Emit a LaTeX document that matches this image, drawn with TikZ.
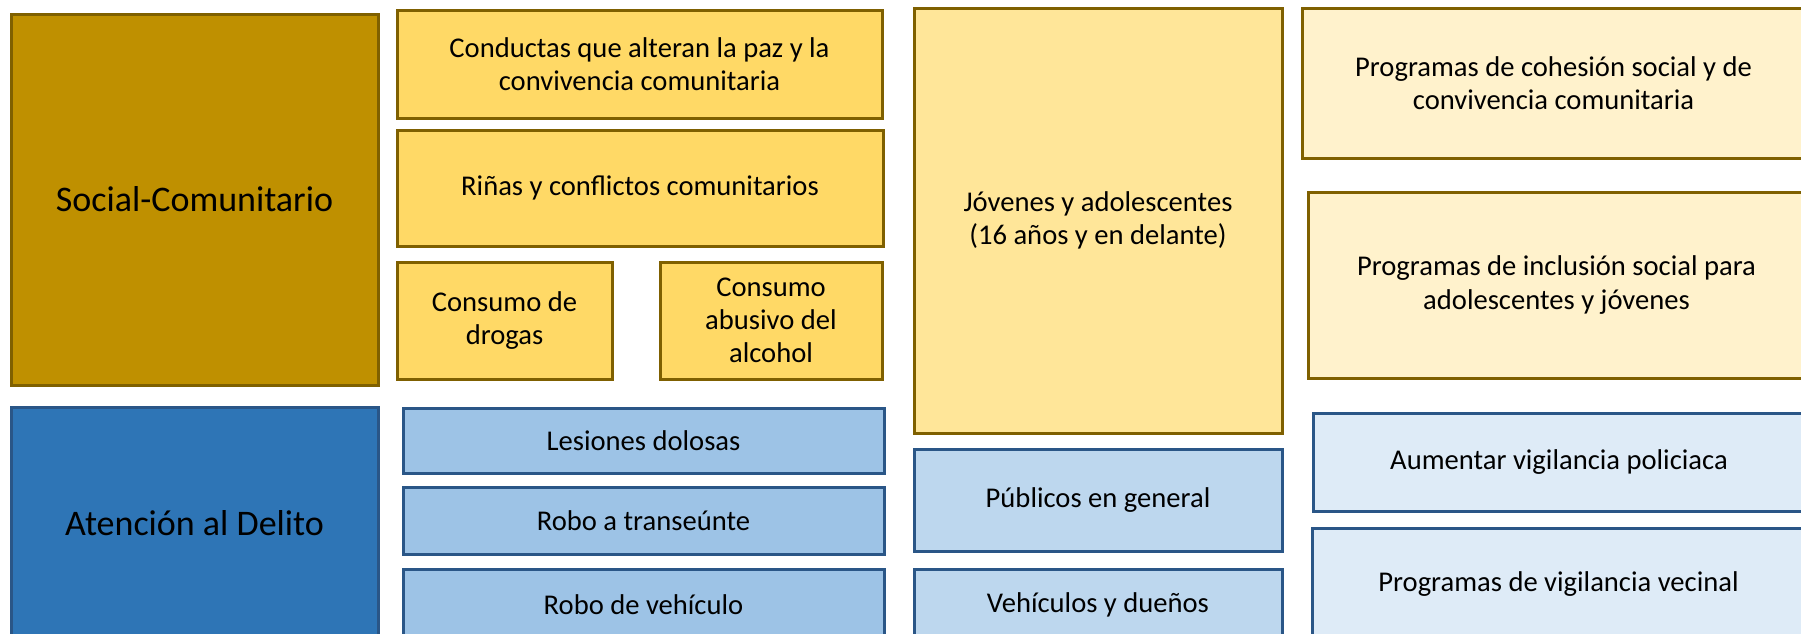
\documentclass[tikz,border=0pt]{standalone}
\usepackage{fontspec}
\setmainfont{Carlito}
\usepackage{tikz}
\definecolor{oro}{HTML}{BF9000}
\definecolor{orolinea}{HTML}{7F6000}
\definecolor{amarillo}{HTML}{FFD966}
\definecolor{amarillomed}{HTML}{FFE699}
\definecolor{amarilloclaro}{HTML}{FFF2CC}
\definecolor{azul}{HTML}{2E75B6}
\definecolor{azullinea}{HTML}{2A5687}
\definecolor{azulmed}{HTML}{9DC3E6}
\definecolor{azulclaro}{HTML}{BDD7EE}
\definecolor{azulpalido}{HTML}{DEEBF7}
% one tile: name, style, x1, y1, x2, y2, text (pixel units)
\newcommand{\tile}[7]{%
  \node[#2,minimum width={(#5-#3)*0.5pt},minimum height={(#6-#4)*0.5pt}]
    (#1) at ({(#3+#5)/2},{(#4+#6)/2}) {#7};}
\tikzset{
  cell/.style={draw,line width=1.5pt,align=center,inner sep=0pt,
    font=\fontsize{14.3}{16.6}\selectfont},
  big/.style={cell,font=\fontsize{18}{21}\selectfont},
  oroA/.style={big,fill=oro,draw=orolinea},
  oroB/.style={cell,fill=amarillo,draw=orolinea},
  oroC/.style={cell,fill=amarillomed,draw=orolinea},
  oroD/.style={cell,fill=amarilloclaro,draw=orolinea},
  azulA/.style={big,fill=azul,draw=azullinea},
  azulB/.style={cell,fill=azulmed,draw=azullinea},
  azulC/.style={cell,fill=azulclaro,draw=azullinea},
  azulD/.style={cell,fill=azulpalido,draw=azullinea}
}
\begin{document}
\begin{tikzpicture}[x=0.5pt,y=-0.5pt]
  \useasboundingbox (0,0) rectangle (1801,633);
  \clip (0,0) rectangle (1801,633);
  % social-comunitario
  \tile{soc}{oroA}{11}{14}{378}{385}{Social-Comunitario}
  \tile{conductas}{oroB}{397}{10}{882}{118}{Conductas que alteran la paz y la\\convivencia comunitaria}
  \tile{rinas}{oroB}{397}{130}{883}{246}{Riñas y conflictos comunitarios}
  \tile{drogas}{oroB}{397}{262}{612}{379}{Consumo de\\drogas}
  \tile{alcohol}{oroB}{660}{262}{882}{379}{Consumo\\abusivo del\\alcohol}
  \tile{jovenes}{oroC}{914}{8}{1282}{433}{Jóvenes y adolescentes\\(16 años y en delante)}
  \tile{cohesion}{oroD}{1302}{8}{1805}{158}{Programas de cohesión social y de\\convivencia comunitaria}
  \tile{inclusion}{oroD}{1308}{192}{1805}{378}{Programas de inclusión social para\\adolescentes y jóvenes}
  % atencion al delito
  \tile{delito}{azulA}{11}{407}{378}{640}{Atención al Delito}
  \tile{lesiones}{azulB}{403}{408}{884}{473}{Lesiones dolosas}
  \tile{transeunte}{azulB}{403}{487}{884}{554}{Robo a transeúnte}
  \tile{vehiculo}{azulB}{403}{569}{884}{640}{Robo de vehículo}
  \tile{publicos}{azulC}{914}{449}{1282}{551}{Públicos en general}
  \tile{duenos}{azulC}{914}{569}{1282}{640}{Vehículos y dueños}
  \tile{policia}{azulD}{1313}{413}{1805}{511}{Aumentar vigilancia policiaca}
  \tile{vecinal}{azulD}{1312}{528}{1805}{640}{Programas de vigilancia vecinal}
\end{tikzpicture}
\end{document}
